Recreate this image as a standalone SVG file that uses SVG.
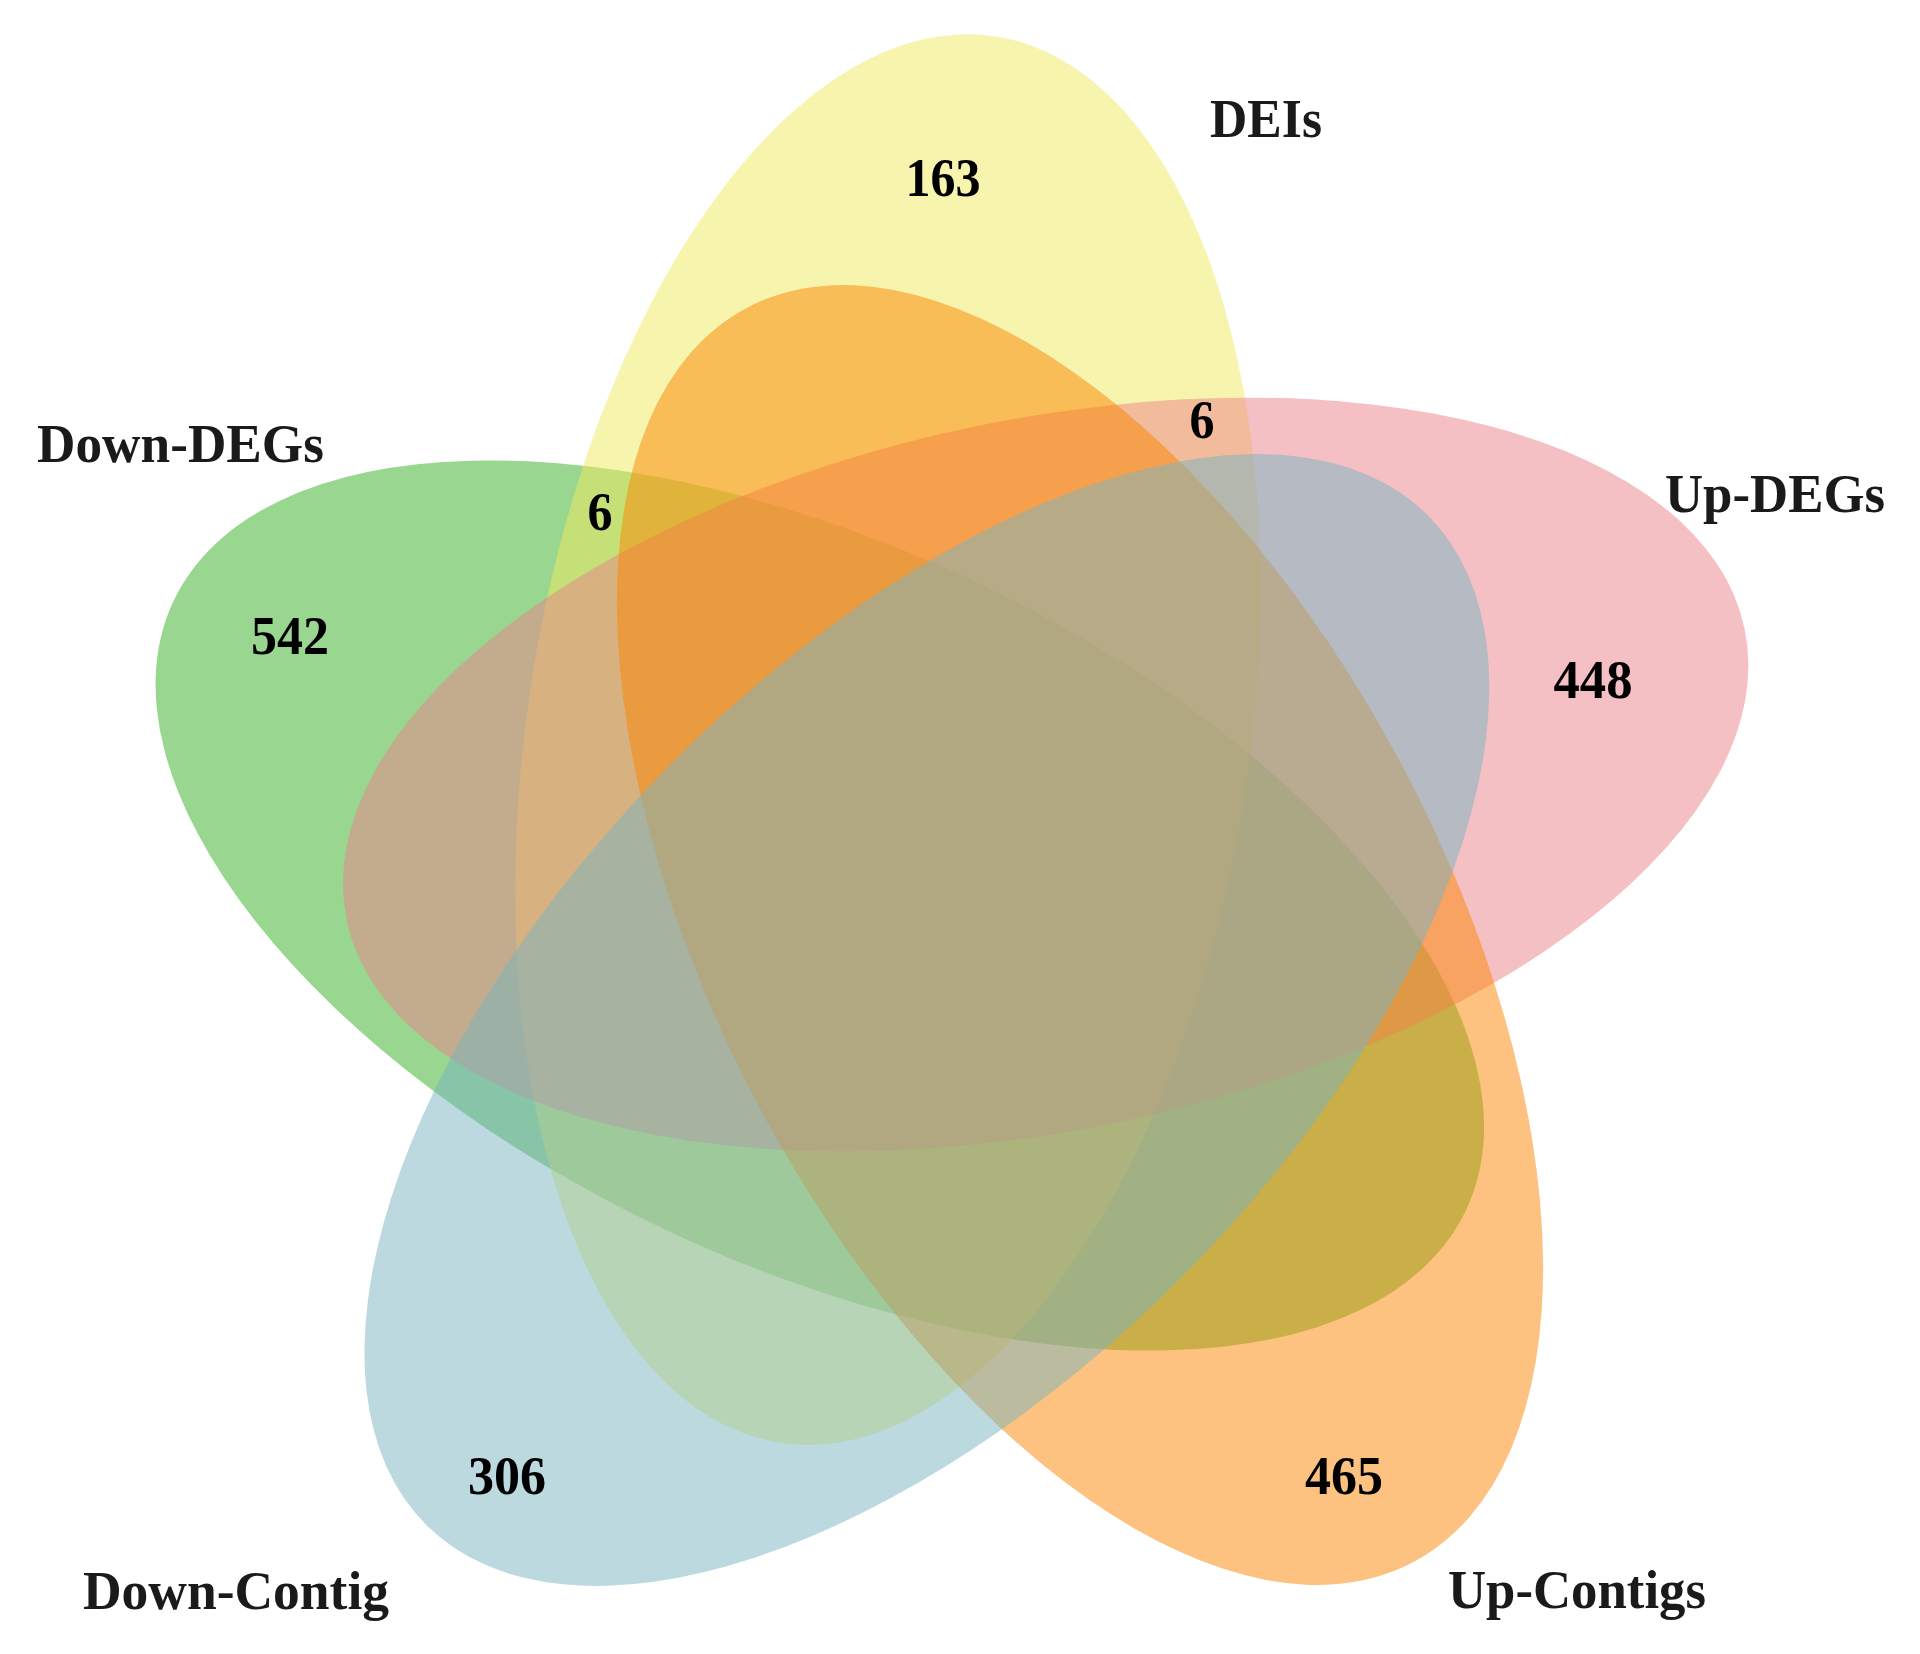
<svg xmlns="http://www.w3.org/2000/svg" width="1920" height="1654" viewBox="0 0 1920 1654">
<style>
.set{fill-opacity:0.5;stroke:none}
.lbl{font-family:"Liberation Serif","Times New Roman",serif;font-weight:bold;font-size:55px;fill:#1a1a1a}
.num{font-family:"Liberation Serif","Times New Roman",serif;font-weight:bold;font-size:55px;fill:#000;text-anchor:middle}
</style>
<rect width="1920" height="1654" fill="#ffffff"/>
<g id="set-down-degs">
<ellipse class="set" fill="#33AD21" cx="819.8" cy="905.5" rx="359.1" ry="714.4" transform="rotate(-64.8 819.8 905.5)"/>
</g>
<g id="set-deis">
<ellipse class="set" fill="#EFE95D" cx="887.8" cy="739.6" rx="361" ry="711.4" transform="rotate(8.7 887.8 739.6)"/>
</g>
<g id="set-up-degs">
<ellipse class="set" fill="#EB8189" cx="1045.7" cy="774.5" rx="713.9" ry="355.1" transform="rotate(-11.75 1045.7 774.5)"/>
</g>
<g id="set-up-contigs">
<ellipse class="set" fill="#FB8500" cx="1080" cy="935" rx="364" ry="710.2" transform="rotate(-28 1080 935)"/>
</g>
<g id="set-down-contig">
<ellipse class="set" fill="#77B3BF" cx="926.9" cy="1020" rx="362" ry="711" transform="rotate(44.7 926.9 1020)"/>
</g>
<g id="labels">
<text class="lbl" x="1210" y="137" textLength="112" lengthAdjust="spacingAndGlyphs">DEIs</text>
<text class="lbl" x="37" y="462" textLength="287" lengthAdjust="spacingAndGlyphs">Down-DEGs</text>
<text class="lbl" x="1665" y="512" textLength="220" lengthAdjust="spacingAndGlyphs">Up-DEGs</text>
<text class="lbl" x="83" y="1609" textLength="306" lengthAdjust="spacingAndGlyphs">Down-Contig</text>
<text class="lbl" x="1448" y="1608" textLength="258" lengthAdjust="spacingAndGlyphs">Up-Contigs</text>
</g>
<g id="counts">
<text class="num" x="943" y="196" textLength="75" lengthAdjust="spacingAndGlyphs">163</text>
<text class="num" x="290" y="654" textLength="78" lengthAdjust="spacingAndGlyphs">542</text>
<text class="num" x="1593" y="698" textLength="79" lengthAdjust="spacingAndGlyphs">448</text>
<text class="num" x="507" y="1494" textLength="78" lengthAdjust="spacingAndGlyphs">306</text>
<text class="num" x="1344" y="1494" textLength="78" lengthAdjust="spacingAndGlyphs">465</text>
<text class="num" x="600" y="530" textLength="25" lengthAdjust="spacingAndGlyphs">6</text>
<text class="num" x="1202" y="438" textLength="25" lengthAdjust="spacingAndGlyphs">6</text>
</g>
</svg>
